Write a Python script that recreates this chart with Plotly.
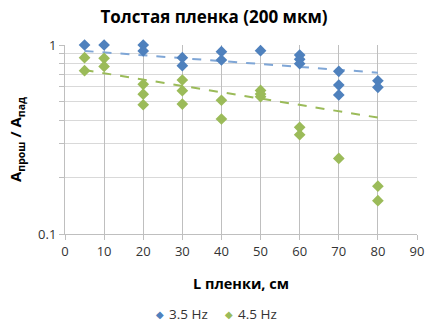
import plotly.graph_objects as go

x_blue = [5, 10, 20, 20, 30, 30, 40, 40, 50, 60, 60, 60, 70, 70, 70, 80, 80]
y_blue = [1.0, 1.0, 1.0, 0.93, 0.857, 0.777, 0.922, 0.833, 0.933, 0.885, 0.84, 0.796,
          0.726, 0.614, 0.544, 0.647, 0.597]

x_green = [5, 5, 10, 10, 20, 20, 20, 30, 30, 30, 40, 40, 50, 50, 50, 60, 60, 70, 80, 80]
y_green = [0.857, 0.731, 0.85, 0.77, 0.619, 0.549, 0.483, 0.653, 0.573, 0.487, 0.51, 0.406,
           0.575, 0.55, 0.533, 0.367, 0.335, 0.251, 0.179, 0.150]

# trend lines (exponential)
trend_x = [5, 80]
trend_blue = [0.93, 0.714]
trend_green = [0.737, 0.413]

names = ["3.5 Hz", "4.5 Hz"]
colors = ["#4F81BD", "#9BBB59"]
trend_colors = ["#7FA6D6", "#9BBB59"]

x_ticks = [0, 10, 20, 30, 40, 50, 60, 70, 80, 90]
y_minor = [0.2, 0.3, 0.4, 0.5, 0.6, 0.7, 0.8, 0.9]

fig = go.Figure()
for tr, c in zip([trend_blue, trend_green], trend_colors):
    fig.add_trace(go.Scatter(x=trend_x, y=tr, mode="lines", showlegend=False,
                             line=dict(color=c, width=2, dash="dash")))
for xs, ys, nm, c in zip([x_blue, x_green], [y_blue, y_green], names, colors):
    fig.add_trace(go.Scatter(x=xs, y=ys, mode="markers", name=nm, showlegend=False,
                             cliponaxis=False,
                             marker=dict(symbol="diamond", size=9, color=c)))

# legend drawn as annotations (Excel style: small diamond close to text)
leg_y = -0.425
leg_sym_x = [0.27, 0.466]
leg_txt_x = [0.293, 0.488]
for nm, c, sx, tx in zip(names, colors, leg_sym_x, leg_txt_x):
    fig.add_annotation(x=sx, y=leg_y, xref="paper", yref="paper", showarrow=False,
                       text="◆", font=dict(size=10, color=c, family="DejaVu Sans"),
                       xanchor="center", yanchor="middle", borderpad=0)
    fig.add_annotation(x=tx, y=leg_y, xref="paper", yref="paper", showarrow=False,
                       text=nm, font=dict(size=13.5, color="#333"),
                       xanchor="left", yanchor="middle", borderpad=0)

grid = "#D9D9D9"
axis_c = "#BFBFBF"
fig.update_layout(
    width=428, height=323,
    margin=dict(l=65, r=11, t=45, b=89, autoexpand=False),
    paper_bgcolor="white", plot_bgcolor="white",
    font=dict(family="Open Sans, Liberation Sans, sans-serif", size=13, color="#333"),
    title=dict(text="<b>Толстая пленка (200 мкм)</b>", x=0.5, xanchor="center",
               y=0.948, yanchor="middle", font=dict(size=17, color="#000")),
    showlegend=False,
    xaxis=dict(range=[0, 90], tickvals=x_ticks, showgrid=True, gridcolor="#BFBFBF",
               showline=True, linecolor=axis_c, ticks="outside", ticklen=5,
               tickcolor=axis_c, zeroline=False,
               title=dict(text="<b>L пленки, см</b>", font=dict(size=14.5, color="#000"), standoff=20)),
    yaxis=dict(type="log", range=[-1, 0], tickvals=[0.1, 1], ticktext=["0.1", "1"],
               showgrid=True, gridcolor=grid, showline=True, linecolor=axis_c,
               ticks="outside", ticklen=5, tickcolor=axis_c, zeroline=False,
               minor=dict(tickvals=y_minor, showgrid=True, gridcolor=grid,
                          ticks="outside", ticklen=5, tickcolor=axis_c),
               title=dict(text="<b>A<sub>прош</sub> / A<sub>пад</sub></b>",
                          font=dict(size=15, color="#000"), standoff=12)),
)

fig.write_html("out.html")
